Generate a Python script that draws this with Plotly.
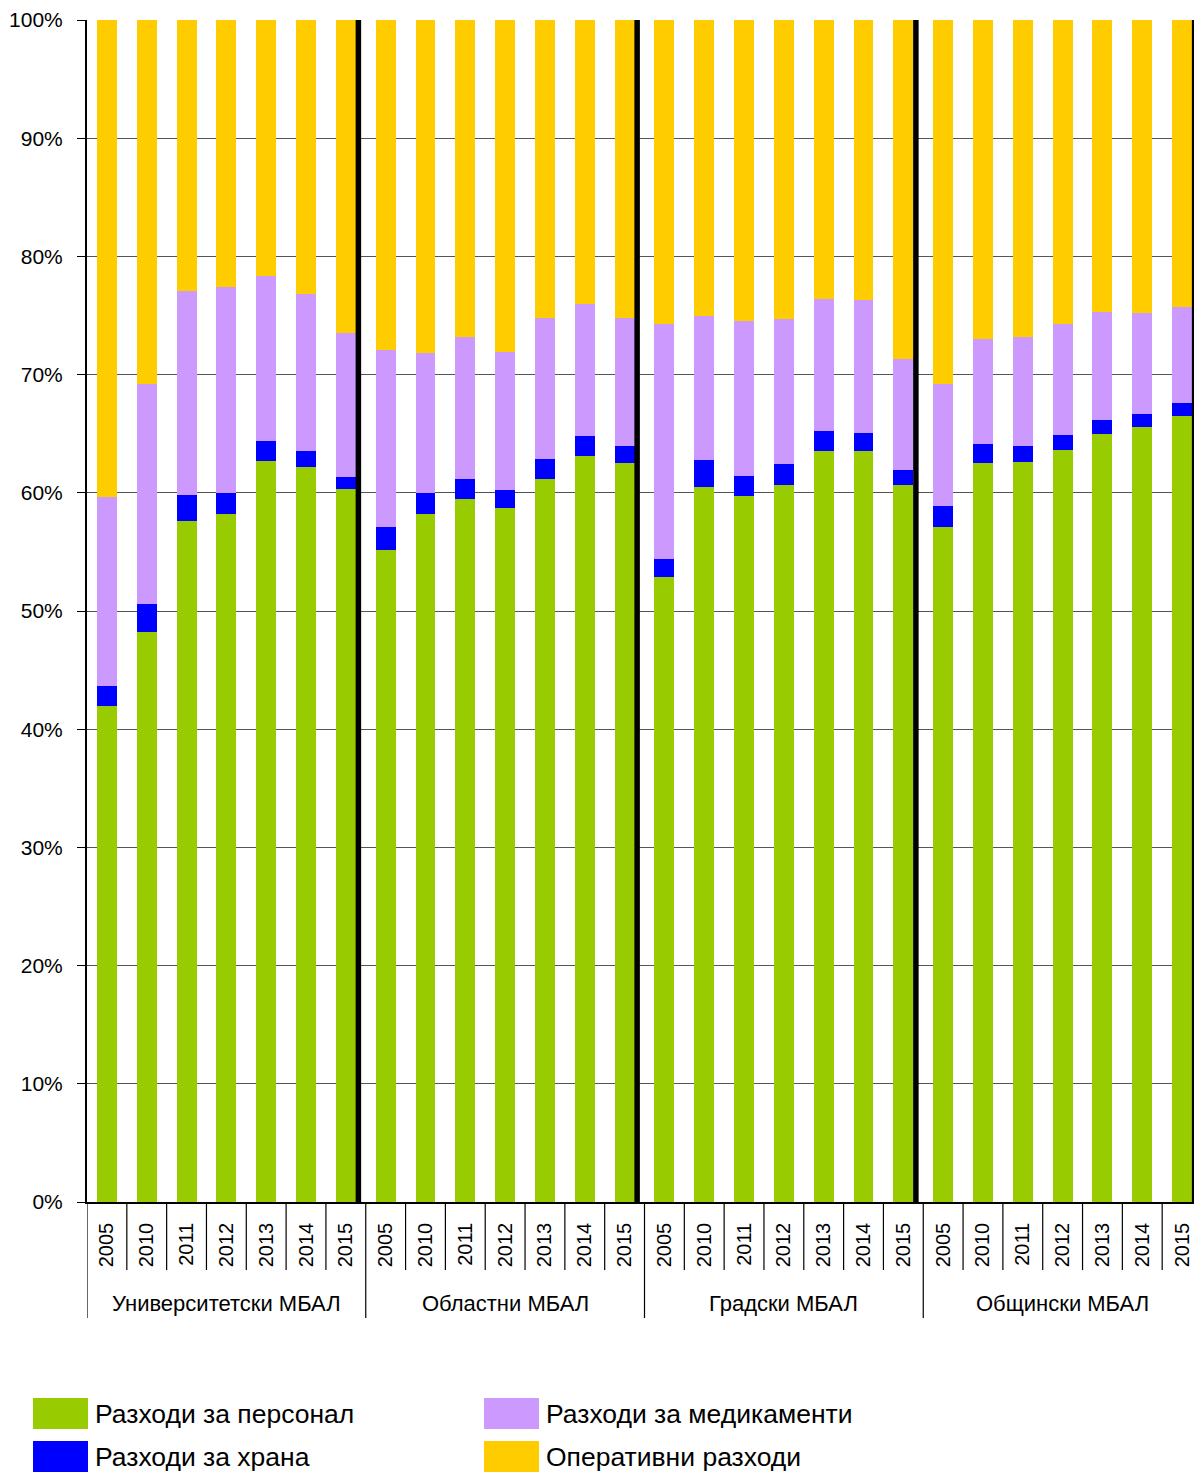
import plotly.graph_objects as go

groups = ["Университетски МБАЛ", "Областни МБАЛ", "Градски МБАЛ", "Общински МБАЛ"]
years = ["2005", "2010", "2011", "2012", "2013", "2014", "2015"]

# Cumulative tops (percent)
personal_top = [42.0, 48.2, 57.6, 58.2, 62.7, 62.2, 60.3,
                55.2, 58.2, 59.5, 58.7, 61.2, 63.1, 62.5,
                52.9, 60.5, 59.7, 60.7, 63.5, 63.5, 60.7,
                57.1, 62.5, 62.6, 63.6, 65.0, 65.6, 66.5]
food_top = [43.65, 50.6, 59.8, 60.0, 64.4, 63.5, 61.3,
            57.1, 60.0, 61.2, 60.2, 62.9, 64.8, 64.0,
            54.4, 62.8, 61.4, 62.4, 65.2, 65.1, 61.9,
            58.9, 64.1, 64.0, 64.9, 66.2, 66.7, 67.6]
meds_top = [59.65, 69.2, 77.1, 77.4, 78.3, 76.8, 73.5,
            72.1, 71.8, 73.2, 71.9, 74.8, 76.0, 74.8,
            74.3, 75.0, 74.5, 74.7, 76.4, 76.3, 71.3,
            69.2, 73.0, 73.2, 74.3, 75.3, 75.2, 75.7]

personal = [round(p, 2) for p in personal_top]
food = [round(f - p, 2) for f, p in zip(food_top, personal_top)]
meds = [round(m - f, 2) for m, f in zip(meds_top, food_top)]
oper = [round(100 - m, 2) for m in meds_top]

series_names = ["Разходи за персонал", "Разходи за храна", "Разходи за медикаменти", "Оперативни разходи"]
series_values = [personal, food, meds, oper]
colors = ["#99CC00", "#0000FF", "#CC99FF", "#FFCC00"]

n_years = len(years)
x = list(range(len(groups) * n_years))
tick_text = years * len(groups)

FONT = "Liberation Sans Narrow, Arial Narrow, Liberation Sans, Arial, sans-serif"

fig = go.Figure()
for name, vals, col in zip(series_names, series_values, colors):
    fig.add_trace(go.Bar(x=x, y=vals, name=name, marker=dict(color=col, line=dict(width=0)),
                         showlegend=False))

OFF = 8  # page body margin
W, H = 1202 - OFF, 1473 - OFF
L, R, T, B = 87 - OFF, 0, 20 - OFF, 271
PW, PH = W - L - R, H - T - B

def px_x(p):
    return (p - OFF - L) / PW

def px_y(p):
    return (H - B + OFF - p) / PH

shapes = []
# thick black separators at the right of each group's last bar
for g in range(len(groups)):
    xi = g * n_years + n_years - 1 + 0.315
    shapes.append(dict(type="line", xref="x", yref="y", x0=xi, x1=xi, y0=0, y1=100,
                       line=dict(color="black", width=5.5), layer="above"))
# category dividers below axis
for i in range(len(x) + 1):
    xb = i - 0.5
    is_group = (i % n_years == 0)
    y1 = px_y(1318) if is_group else px_y(1270)
    shapes.append(dict(type="line", xref="x", yref="paper", x0=xb, x1=xb, y0=0, y1=y1,
                       line=dict(color="black", width=1.2)))
# custom legend swatches
leg_pos = [(33, 1398), (33, 1441), (484, 1398), (484, 1441)]
for (lx, ly), col in zip(leg_pos, colors):
    shapes.append(dict(type="rect", xref="paper", yref="paper",
                       x0=px_x(lx), x1=px_x(lx + 55), y0=px_y(ly), y1=px_y(ly + 31),
                       fillcolor=col, line=dict(width=0)))

annotations = []
for g, name in enumerate(groups):
    annotations.append(dict(x=g * n_years + (n_years - 1) / 2, xref="x", y=px_y(1303), yref="paper",
                            text=name, showarrow=False, xanchor="center", yanchor="middle",
                            font=dict(family=FONT, size=22, color="black")))
for (lx, ly), name in zip(leg_pos, series_names):
    annotations.append(dict(x=px_x(lx + 60), xref="paper", y=px_y(ly + 16), yref="paper",
                            text=name, showarrow=False, xanchor="left", yanchor="middle",
                            font=dict(family=FONT, size=26.5, color="black")))

fig.update_layout(
    width=W, height=H,
    margin=dict(l=L, r=R, t=T, b=B, autoexpand=False),
    paper_bgcolor="white", plot_bgcolor="white",
    barmode="stack", bargap=0.5,
    shapes=shapes, annotations=annotations,
    font=dict(family=FONT, color="black"),
)
fig.update_xaxes(range=[-0.5, len(x) - 0.5], tickmode="array", tickvals=x, ticktext=tick_text,
                 tickangle=-90, tickfont=dict(family=FONT, size=20, color="black"),
                 showgrid=False, showline=True, linecolor="black", linewidth=1.5,
                 ticks="", ticklabelstandoff=11, zeroline=False, automargin=False)
fig.update_yaxes(range=[0, 100], tickmode="linear", tick0=0, dtick=10, ticksuffix="%",
                 tickfont=dict(family=FONT, size=21, color="black"),
                 showgrid=True, gridcolor="#555555", gridwidth=1.3,
                 showline=True, linecolor="black", linewidth=2,
                 ticks="outside", ticklen=8, tickcolor="black", tickwidth=1.3,
                 ticklabelstandoff=10, zeroline=False, automargin=False)

fig.write_html("out.html")
